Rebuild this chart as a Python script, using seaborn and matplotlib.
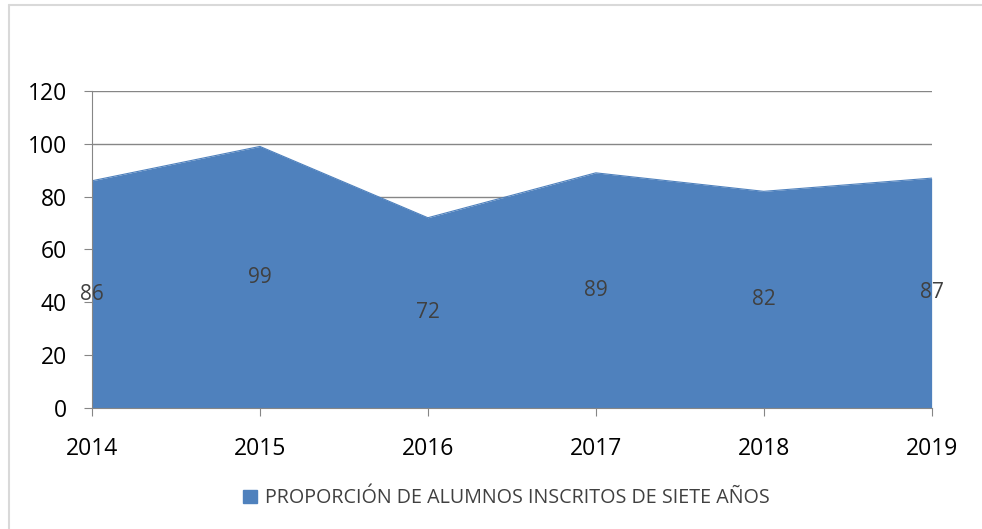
import pandas as pd
import seaborn as sns
import matplotlib.pyplot as plt
from matplotlib.lines import Line2D
from matplotlib.patches import Patch

years = [2014, 2015, 2016, 2017, 2018, 2019]
values = [86, 99, 72, 89, 82, 87]
serie = "PROPORCIÓN DE ALUMNOS INSCRITOS DE SIETE AÑOS"
color = "#4F81BD"

df = pd.DataFrame({"anio": years, "valor": values})

sns.set_style("white")
plt.rcParams['font.family'] = ['Open Sans', 'DejaVu Sans']

fig = plt.figure(figsize=(9.82, 5.29), dpi=100)
ax = fig.add_axes([0.0937, 0.229, 0.855, 0.599])

sns.lineplot(data=df, x="anio", y="valor", color=color, linewidth=0.8, ax=ax)
ax.fill_between(df["anio"], df["valor"], 0, color=color, linewidth=0)

for x, y in zip(df["anio"], df["valor"]):
    ax.text(x, y / 2, str(y), ha="center", va="center", fontsize=15, color="#404040")

ax.set_xlim(years[0], years[-1])
ax.set_ylim(0, 120)
ax.set_yticks(range(0, 121, 20))
ax.set_xticks(years)
ax.grid(axis="y", color="#868686", linewidth=1)
ax.set_axisbelow(True)
for s in ["top", "right"]:
    ax.spines[s].set_visible(False)
ax.spines["left"].set_color("#868686")
ax.spines["bottom"].set_color("#868686")
ax.tick_params(axis="both", which="both", length=6, color="#868686",
               labelsize=16.5, labelcolor="black", direction="out",
               left=True, bottom=True)
ax.tick_params(axis="x", pad=15)
ax.tick_params(axis="y", pad=12)
ax.set_xlabel("")
ax.set_ylabel("")

handle = Patch(facecolor=color, edgecolor=color)
fig.legend([handle], [serie], loc="center", bbox_to_anchor=(0.516, 0.058),
           frameon=False, fontsize=14.2, handlelength=0.7, handleheight=0.7,
           handletextpad=0.4, labelcolor="#404040")

# marco del gráfico
fig.add_artist(Line2D([9 / 982, 1], [1 - 5 / 529] * 2, color="#d9d9d9", lw=1.5))
fig.add_artist(Line2D([9 / 982] * 2, [0, 1 - 5 / 529], color="#d9d9d9", lw=1.5))

plt.savefig("out.png", dpi=100)
